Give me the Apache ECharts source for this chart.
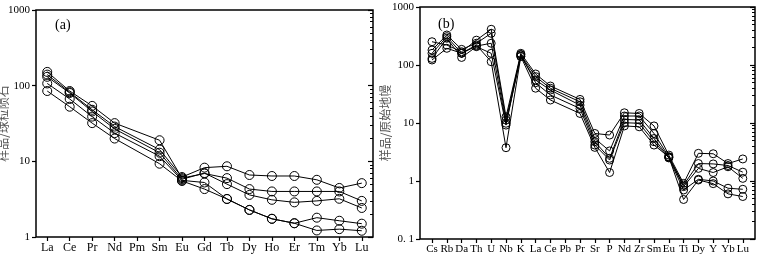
<!DOCTYPE html>
<html>
<head>
<meta charset="utf-8">
<script src="https://cdn.jsdelivr.net/npm/echarts@6/dist/echarts.min.js"></script>
<style>
  html, body { margin: 0; padding: 0; background: #fff; }
  #chart { width: 763px; height: 261px; }
</style>
</head>
<body>
<div id="chart"></div>
<script>
// (a) chondrite-normalised REE
const reeCats = ['La', 'Ce', 'Pr', 'Nd', 'Pm', 'Sm', 'Eu', 'Gd', 'Tb', 'Dy', 'Ho', 'Er', 'Tm', 'Yb', 'Lu']
const reeS1 = [152, 85, 54, 32, null, 19, 6.0, 6.9, 6.0, 4.3, 4.0, 4.0, 4.0, 4.0, 3.0]
const reeS2 = [140, 82, 48, 28.8, null, 14.3, 6.2, 8.25, 8.6, 6.6, 6.4, 6.4, 5.7, 4.45, 5.15]
const reeS3 = [131, 80, 45.6, 26.8, null, 13, 5.8, 7.0, 5.0, 3.6, 3.1, 2.87, 3.0, 3.2, 2.42]
const reeS4 = [107, 66.7, 39, 23.6, null, 11.7, 5.6, 5.25, 3.18, 2.28, 1.74, 1.52, 1.8, 1.64, 1.5]
const reeS5 = [85, 52.7, 32, 20, null, 9.3, 5.5, 4.3, 3.18, 2.28, 1.74, 1.52, 1.22, 1.27, 1.21]

// (b) primitive-mantle-normalised trace elements
const traceCats = ['Cs', 'Rb', 'Da', 'Th', 'U', 'Nb', 'K', 'La', 'Ce', 'Pb', 'Pr', 'Sr', 'P', 'Nd', 'Zr', 'Sm', 'Eu', 'Ti', 'Dy', 'Y', 'Yb', 'Lu']
const trS1 = [252, 221, 169, 268, 413, 12.8, 159, 70, 43.4, null, 25.5, 6.6, 6.2, 15, 14.6, 8.9, 2.8, 0.91, 3.0, 2.95, 2.0, 2.4]
const trS2 = [181, 329, 186, 237, 352, 11.2, 149, 63, 39.7, null, 23.2, 5.4, 3.3, 13.2, 13.2, 6.6, 2.62, 0.85, 2.0, 1.97, 1.85, 1.42]
const trS3 = [159, 308, 159, 212, 237, 9.9, 142, 55, 37, null, 20.3, 4.76, 2.46, 11.5, 11.3, 5.4, 2.55, 0.8, 1.65, 1.4, 1.76, 1.11]
const trS4 = [130, 289, 135, 207, 159, 9.2, 152, 49.5, 30.4, null, 17.8, 4.17, 2.3, 10.1, 9.9, 4.76, 2.5, 0.7, 1.07, 1.0, 0.75, 0.72]
const trS5 = [122, 194, 160, 221, 114, 3.75, 140, 39.8, 24.9, null, 14.6, 3.8, 1.4, 8.9, 8.6, 4.17, 2.6, 0.48, 1.04, 0.9, 0.6, 0.54]

const leftTicks = [1, 10, 100, 1000]
const rightTicks = [0.1, 1, 10, 100, 1000]

const serif = 'Liberation Serif'
const cjk = 'Noto Sans CJK SC'

function minorValues(ticks) {
  const out = []
  for (let i = 0; i < ticks.length - 1; i++) {
    for (let k = 2; k <= 9; k++) out.push(ticks[i] * k)
  }
  return out
}

function fmtTick(v) {
  const e = Math.round(Math.log10(v))
  return e < 0 ? '0. 1' : String(Math.pow(10, e))
}

function logAxis(gridIndex, ticks, opts) {
  return Object.assign({
    type: 'log',
    gridIndex,
    min: ticks[0],
    max: ticks[ticks.length - 1],
    logBase: 10,
    axisLine: { show: false },
    splitLine: { show: false },
    minorTick: { show: false },
    axisTick: { show: false },
    axisLabel: { show: false },
  }, opts)
}

// three stacked log axes per panel: labels + outer ticks, inner major ticks, inner minor ticks
function yAxesFor(gridIndex, ticks, name, nameGap) {
  return [
    logAxis(gridIndex, ticks, {
      name,
      nameLocation: 'middle',
      nameGap,
      nameRotate: 90,
      nameMoveOverlap: false,
      nameTextStyle: { fontFamily: cjk, fontSize: 12, color: '#555' },
      axisTick: { show: true, inside: false, length: 4, customValues: ticks, lineStyle: { color: '#000', width: 1.2 } },
      axisLabel: { show: true, margin: 6, customValues: ticks, formatter: fmtTick, fontFamily: serif, fontSize: 11, color: '#000' },
    }),
    logAxis(gridIndex, ticks, {
      axisTick: { show: true, inside: true, length: 5, customValues: ticks, lineStyle: { color: '#000', width: 1.2 } },
    }),
    logAxis(gridIndex, ticks, {
      axisTick: { show: true, inside: true, length: 3, customValues: minorValues(ticks), lineStyle: { color: '#000', width: 1 } },
    }),
  ]
}

function catAxis(gridIndex, data, fontSize) {
  return {
    type: 'category',
    gridIndex,
    data,
    boundaryGap: true,
    axisLine: { show: false },
    axisTick: { show: true, inside: false, length: 4, alignWithLabel: true, interval: 0, lineStyle: { color: '#000', width: 1.2 } },
    axisLabel: { interval: 0, margin: 5, fontFamily: serif, fontSize, color: '#000' },
    splitLine: { show: false },
  }
}

function sampleSeries(data, xi, yi, size) {
  return {
    type: 'line',
    data,
    xAxisIndex: xi,
    yAxisIndex: yi,
    connectNulls: true,
    symbol: 'circle',
    symbolSize: size,
    lineStyle: { color: '#000', width: 1 },
    itemStyle: { color: 'rgba(0,0,0,0)', borderColor: '#000', borderWidth: 1 },
    emphasis: { disabled: true },
    z: 3,
  }
}

const chart = echarts.init(document.getElementById('chart'), null, { renderer: 'canvas' })

chart.setOption({
  animation: false,
  backgroundColor: '#fff',
  title: [
    { text: '(a)', left: 50, top: 13, textStyle: { fontFamily: serif, fontSize: 14, fontWeight: 'normal', color: '#000' } },
    { text: '(b)', left: 433, top: 12, textStyle: { fontFamily: serif, fontSize: 14, fontWeight: 'normal', color: '#000' } },
  ],
  grid: [
    { left: 36, right: 390, top: 10, bottom: 24, show: true, borderColor: '#000', borderWidth: 1.5, outerBoundsMode: 'none' },
    { left: 420, right: 8, top: 7, bottom: 22, show: true, borderColor: '#000', borderWidth: 1.5, outerBoundsMode: 'none' },
    { left: 424.6, width: 325.6, top: 7, bottom: 22, show: false, outerBoundsMode: 'none' },
  ],
  xAxis: [
    catAxis(0, reeCats, 12),
    { type: 'value', gridIndex: 1, show: false },
    catAxis(2, traceCats, 11),
  ],
  yAxis: [
    ...yAxesFor(0, leftTicks, '样品/球粒陨石', 27),
    ...yAxesFor(1, rightTicks, '样品/原始地幔', 29),
    logAxis(2, rightTicks, { show: false }),
  ],
  series: [
    sampleSeries(reeS1, 0, 0, 9),
    sampleSeries(reeS2, 0, 0, 9),
    sampleSeries(reeS3, 0, 0, 9),
    sampleSeries(reeS4, 0, 0, 9),
    sampleSeries(reeS5, 0, 0, 9),
    sampleSeries(trS1, 2, 6, 8),
    sampleSeries(trS2, 2, 6, 8),
    sampleSeries(trS3, 2, 6, 8),
    sampleSeries(trS4, 2, 6, 8),
    sampleSeries(trS5, 2, 6, 8),
  ],
})
</script>
</body>
</html>
